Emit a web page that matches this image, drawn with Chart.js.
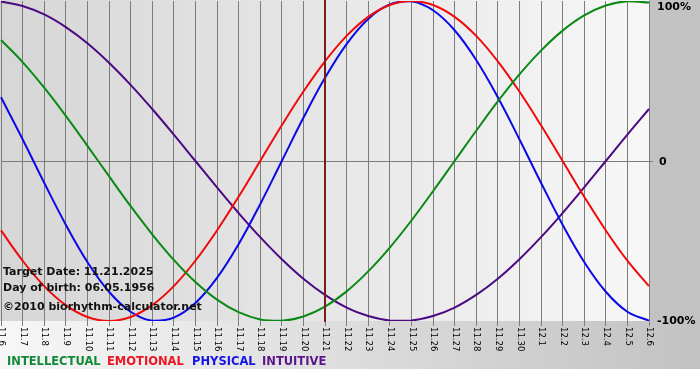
<!DOCTYPE html>
<html>
<head>
<meta charset="utf-8">
<script src="https://cdn.jsdelivr.net/npm/chart.js@4.4.1/dist/chart.umd.min.js"></script>
<style>
  body { margin: 0; background: #fff; }
  canvas { display: block; }
</style>
</head>
<body>
<canvas id="bio" width="700" height="380"></canvas>
<script>
// day labels, 11.6 .. 12.6
const days = ['11.6','11.7','11.8','11.9','11.10','11.11','11.12','11.13','11.14','11.15',
  '11.16','11.17','11.18','11.19','11.20','11.21','11.22','11.23','11.24','11.25',
  '11.26','11.27','11.28','11.29','11.30','12.1','12.2','12.3','12.4','12.5','12.6'];

const intellectual = [0.756,0.618,0.458,0.282,0.095,-0.095,-0.282,-0.458,-0.618,-0.756,-0.866,-0.945,-0.990,-0.999,-0.972,
  -0.910,-0.815,-0.690,-0.541,-0.372,-0.189,0,0.189,0.372,0.541,0.690,0.815,0.910,0.972,0.999,0.990];
const emotional = [-0.434,-0.623,-0.782,-0.901,-0.975,-1.000,-0.975,-0.901,-0.782,-0.623,-0.434,-0.223,0,0.223,0.434,
  0.623,0.782,0.901,0.975,1.000,0.975,0.901,0.782,0.623,0.434,0.223,0,-0.223,-0.434,-0.623,-0.782];
const physical = [0.398,0.136,-0.136,-0.398,-0.631,-0.817,-0.942,-0.998,-0.979,-0.888,-0.731,-0.520,-0.270,0,0.270,
  0.520,0.731,0.888,0.979,0.998,0.942,0.817,0.631,0.398,0.136,-0.136,-0.398,-0.631,-0.817,-0.942,-0.998];
const intuitive = [0.997,0.969,0.916,0.837,0.736,0.614,0.476,0.325,0.165,0,-0.165,-0.325,-0.476,-0.614,-0.736,
  -0.837,-0.916,-0.969,-0.997,-0.997,-0.969,-0.916,-0.837,-0.736,-0.614,-0.476,-0.325,-0.165,0,0.165,0.325];

const seriesNames = ['INTELLECTUAL', 'EMOTIONAL', 'PHYSICAL', 'INTUITIVE'];
const yTicks = [1, 0, -1];
const yTickLabels = ['100%', '0', '-100%'];
const targetDay = '11.21';
const infoLines = ['Target Date: 11.21.2025', 'Day of birth: 06.05.1956', '\u00a92010 biorhythm-calculator.net'];

const lineColors = ['#0a8a14', '#f00a0a', '#0a0ae6', '#4b0a82'];
const legendColors = ['#138a38', '#ee1622', '#1414e6', '#5a148c'];
const legendX = [7, 107, 192, 262];

function mkSet(label, data, i) {
  return {
    label: label,
    data: data,
    borderColor: lineColors[i],
    borderWidth: 2,
    pointRadius: 0,
    tension: 0.4,
    fill: false
  }
}

// backgrounds, target line, rotated day labels, texts
const bioPainter = {
  id: 'bioPainter',
  beforeDraw(chart) {
    const ctx = chart.ctx, a = chart.chartArea;
    ctx.save();
    ctx.fillStyle = '#fff';
    ctx.fillRect(0, 0, 700, 380);
    let g = ctx.createLinearGradient(0, 0, 700, 0);
    g.addColorStop(0, '#f7f7f7');
    g.addColorStop(1, '#c2c2c2');
    ctx.fillStyle = g;
    ctx.fillRect(0, a.bottom, 700, 369 - a.bottom);
    ctx.fillStyle = '#c2c2c2';
    ctx.fillRect(a.right, 0, 700 - a.right, a.bottom);
    g = ctx.createLinearGradient(0, 0, a.right, 0);
    g.addColorStop(0, '#d6d6d6');
    g.addColorStop(1, '#f7f7f7');
    ctx.fillStyle = g;
    ctx.fillRect(0, 0, a.right, a.bottom);
    ctx.restore();
  },
  afterDatasetsDraw(chart) {
    const ctx = chart.ctx, a = chart.chartArea;
    const xs = chart.scales.x, ys = chart.scales.y;
    ctx.save();
    // target date line
    const tx = Math.round(xs.getPixelForValue(days.indexOf(targetDay)));
    ctx.strokeStyle = '#7a1c1c';
    ctx.lineWidth = 2;
    ctx.beginPath();
    ctx.moveTo(tx, a.top - 1);
    ctx.lineTo(tx, a.bottom + 1);
    ctx.stroke();

    // day labels, turned clockwise
    ctx.fillStyle = '#000';
    ctx.font = '8.5px "DejaVu Sans"';
    ctx.textAlign = 'left';
    ctx.textBaseline = 'middle';
    days.forEach((d, i) => {
      const x = xs.getPixelForValue(i);
      ctx.save();
      ctx.translate(x + 0.5, a.bottom + 6);
      ctx.rotate(Math.PI / 2);
      ctx.fillText(d, 0, 0);
      ctx.restore();
    });

    // percent labels on the right
    ctx.font = 'bold 11px "DejaVu Sans"';
    yTicks.forEach((v, i) => {
      let y = ys.getPixelForValue(v);
      if (v === 1) y += 6;
      if (v === 0) y += 1;
      ctx.fillText(yTickLabels[i], a.right + (v === 0 ? 10 : 8), y);
    });

    // info texts
    ctx.fillStyle = '#111';
    ctx.fillText(infoLines[0], 3, 272);
    ctx.fillText(infoLines[1], 3, 288);
    ctx.fillText(infoLines[2], 3, 307);

    // coloured legend words
    ctx.font = 'bold 11.5px "DejaVu Sans"';
    seriesNames.forEach((n, i) => {
      ctx.fillStyle = legendColors[i];
      ctx.fillText(n, legendX[i], 362);
    });
    ctx.restore();
  }
};

const config = {
  type: 'line',
  data: {
    labels: days,
    datasets: [
      mkSet(seriesNames[0], intellectual, 0),
      mkSet(seriesNames[1], emotional, 1),
      mkSet(seriesNames[2], physical, 2),
      mkSet(seriesNames[3], intuitive, 3)
    ]
  },
  options: {
    responsive: false,
    animation: false,
    events: [],
    layout: { padding: { left: 1, top: 1, right: 0, bottom: 0 } },
    plugins: { legend: { display: false }, tooltip: { enabled: false } },
    scales: {
      x: {
        type: 'category',
        offset: false,
        border: { display: false },
        grid: { color: '#7c7c7c', lineWidth: 1, drawTicks: true, tickLength: 5, offset: false },
        ticks: { display: false, autoSkip: false },
        afterFit(scale) { scale.height = 59; }
      },
      y: {
        position: 'right',
        min: -1,
        max: 1,
        border: { display: false },
        afterBuildTicks(scale) { scale.ticks = yTicks.map(v => ({ value: v })); },
        grid: {
          color: c => (c.tick && c.tick.value === 0) ? '#7c7c7c' : 'rgba(0,0,0,0)',
          drawTicks: true,
          tickLength: 4
        },
        ticks: { display: false },
        afterFit(scale) { scale.width = 51; }
      }
    }
  },
  plugins: [bioPainter]
};

const bioChart = new Chart('bio', config);
</script>
</body>
</html>
